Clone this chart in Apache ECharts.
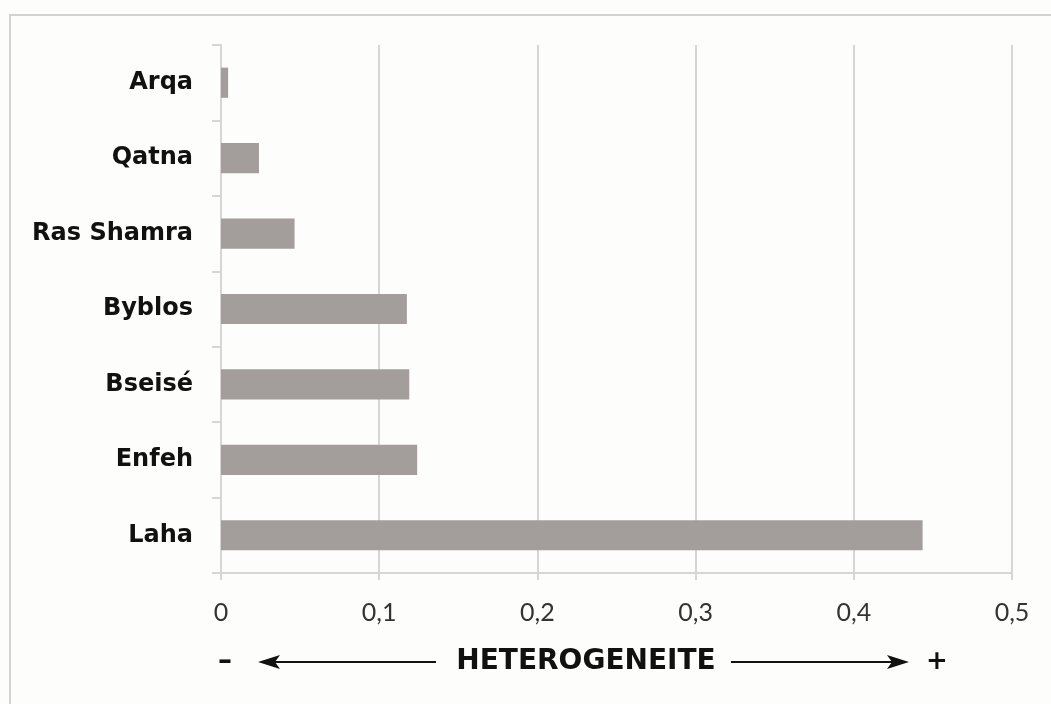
<!DOCTYPE html>
<html>
<head>
<meta charset="utf-8">
<script src="https://cdn.jsdelivr.net/npm/echarts@6/dist/echarts.min.js"></script>
<style>
html,body{margin:0;padding:0;background:#fdfdfc;}
#chart{width:1051px;height:704px;}
</style>
</head>
<body>
<div id="chart"></div>
<script>
const categories = ['Arqa', 'Qatna', 'Ras Shamra', 'Byblos', 'Bseisé', 'Enfeh', 'Laha'];
const heterogeneity = [0.0045, 0.024, 0.0465, 0.1175, 0.119, 0.124, 0.4435];
const axisTitle = 'HETEROGENEITE';
const minusLabel = '–';
const plusLabel = '+';

const chart = echarts.init(document.getElementById('chart'));
const gridCol = '#d6d6d6';
chart.setOption({
  backgroundColor: '#fdfdfc',
  animation: false,
  grid: { left: 221, right: 39, top: 45, bottom: 131, containLabel: false },
  xAxis: {
    type: 'value', min: 0, max: 0.5, interval: 0.1,
    axisLine: { show: true, lineStyle: { color: gridCol, width: 2 } },
    axisTick: { show: true, length: 7, lineStyle: { color: gridCol, width: 2 } },
    splitLine: { show: true, lineStyle: { color: gridCol, width: 2 } },
    axisLabel: {
      margin: 27, fontFamily: 'Lato', fontSize: 25, color: '#333',
      formatter: v => String(Math.round(v * 10) / 10).replace('.', ',')
    }
  },
  yAxis: {
    type: 'category', data: categories, inverse: true,
    axisLine: { show: true, lineStyle: { color: gridCol, width: 2 } },
    axisTick: { show: true, inside: false, length: 9, lineStyle: { color: gridCol, width: 2 } },
    axisLabel: { margin: 28, fontFamily: 'DejaVu Sans', fontWeight: 'bold', fontSize: 24, color: '#111' }
  },
  series: [{
    type: 'bar', data: heterogeneity, barWidth: '40%',
    itemStyle: { color: '#a39e9b' }
  }],
  graphic: [
    { type: 'rect', shape: { x: 10, y: 15, width: 1100, height: 800 }, style: { fill: 'none', stroke: '#d2d2d2', lineWidth: 2 }, z: -1 },
    { type: 'text', x: 225, y: 662, style: { text: minusLabel, font: 'bold 28px DejaVu Sans', fill: '#111', align: 'center', verticalAlign: 'middle' } },
    { type: 'line', shape: { x1: 262, y1: 662, x2: 436, y2: 662 }, style: { stroke: '#111', lineWidth: 2 } },
    { type: 'polygon', shape: { points: [[258, 662], [280, 655], [275, 662], [280, 669]] }, style: { fill: '#111' } },
    { type: 'text', x: 586, y: 662, style: { text: axisTitle, font: 'bold 28px DejaVu Sans', fill: '#111', align: 'center', verticalAlign: 'middle' } },
    { type: 'line', shape: { x1: 731, y1: 662, x2: 905, y2: 662 }, style: { stroke: '#111', lineWidth: 2 } },
    { type: 'polygon', shape: { points: [[909, 662], [887, 655], [892, 662], [887, 669]] }, style: { fill: '#111' } },
    { type: 'text', x: 937, y: 662, style: { text: plusLabel, font: 'bold 26px DejaVu Sans', fill: '#111', align: 'center', verticalAlign: 'middle' } }
  ]
});
</script>
</body>
</html>
